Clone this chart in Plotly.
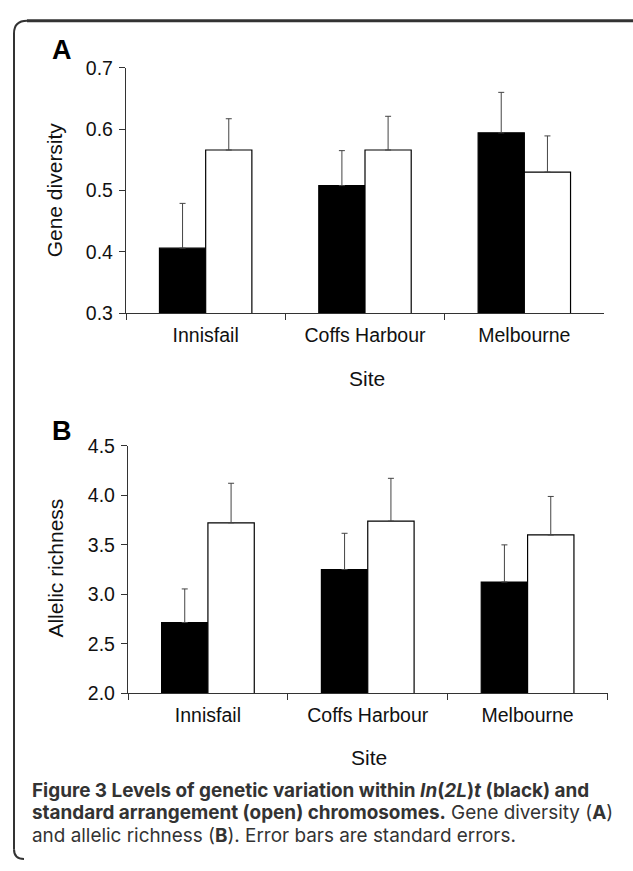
import plotly.graph_objects as go

# ---------------- data ----------------
sites = ["Innisfail", "Coffs Harbour", "Melbourne"]

gene_div_inv = [0.406, 0.508, 0.594]      # In(2L)t (black)
gene_div_inv_se = [0.073, 0.057, 0.066]
gene_div_std = [0.566, 0.566, 0.530]      # standard (open)
gene_div_std_se = [0.051, 0.055, 0.059]

allelic_inv = [2.715, 3.25, 3.124]
allelic_inv_se = [0.339, 0.366, 0.375]
allelic_std = [3.722, 3.739, 3.599]
allelic_std_se = [0.399, 0.432, 0.389]

ticks_a = [0.3, 0.4, 0.5, 0.6, 0.7]
ticks_b = [2.0, 2.5, 3.0, 3.5, 4.0, 4.5]

# ---------------- layout helpers ----------------
W, H = 633, 871


def px(x):
    return x / W


def py(y):
    return 1 - y / H


AXIS_FONT = "Liberation Sans, Arial, sans-serif"
CAP_FONT = "Inter, Open Sans, sans-serif"
AXC = "#333333"

fig = go.Figure()


def add_pair(inv, inv_se, std, std_se, xa, ya):
    fig.add_trace(go.Bar(
        x=sites, y=inv, xaxis=xa, yaxis=ya, name="In(2L)t",
        marker=dict(color="black", line=dict(color="black", width=1.2)),
        error_y=dict(type="data", symmetric=False, array=inv_se,
                     arrayminus=[0] * len(inv_se), color="#444444",
                     thickness=1, width=3),
        showlegend=False))
    fig.add_trace(go.Bar(
        x=sites, y=std, xaxis=xa, yaxis=ya, name="Standard",
        marker=dict(color="white", line=dict(color="black", width=1.2)),
        error_y=dict(type="data", symmetric=False, array=std_se,
                     arrayminus=[0] * len(std_se), color="#444444",
                     thickness=1, width=3),
        showlegend=False))


add_pair(gene_div_inv, gene_div_inv_se, gene_div_std, gene_div_std_se, "x", "y")
add_pair(allelic_inv, allelic_inv_se, allelic_std, allelic_std_se, "x2", "y2")

xcommon = dict(type="category", tickson="boundaries", ticks="outside",
               ticklen=6, tickwidth=1.2, tickcolor=AXC, showline=True,
               linecolor=AXC, linewidth=1.3, showgrid=False, zeroline=False,
               tickfont=dict(family=AXIS_FONT, size=19.5, color="#111"),
               range=[-0.5, 2.5], fixedrange=True, ticklabelstandoff=4)
ycommon = dict(ticks="outside", ticklen=6, tickwidth=1.2, tickcolor=AXC,
               showline=True, linecolor=AXC, linewidth=1.3, showgrid=False,
               zeroline=False, tickfont=dict(family=AXIS_FONT, size=19.5, color="#111"),
               ticklabelstandoff=2)

fig.update_layout(
    width=W, height=H, margin=dict(l=0, r=0, t=0, b=0),
    paper_bgcolor="white", plot_bgcolor="white",
    barmode="group", bargap=0.42, bargroupgap=0,
    xaxis=dict(domain=[px(126), px(604)], anchor="y", **xcommon),
    yaxis=dict(domain=[py(310), py(58.3)], anchor="x", range=[0.3, 0.7],
               tickvals=ticks_a, tickformat=".1f", **ycommon),
    xaxis2=dict(domain=[px(128), px(607.5)], anchor="y2", **xcommon),
    yaxis2=dict(domain=[py(700), py(446)], anchor="x2", range=[2.0, 4.5],
                tickvals=ticks_b, tickformat=".1f", **ycommon),
)

ann = []
tfont = dict(family=AXIS_FONT, size=21, color="#111")
# axis titles
ann.append(dict(text="Gene diversity", x=px(54), y=py(184), textangle=-90, font=tfont))
ann.append(dict(text="Allelic richness", x=px(56), y=py(572), textangle=-90, font=tfont))
ann.append(dict(text="Site", x=px(367), y=py(377), font=tfont))
ann.append(dict(text="Site", x=px(369), y=py(766), font=tfont))
# panel letters
lfont = dict(family=AXIS_FONT, size=27, color="black")
ann.append(dict(text="<b>A</b>", x=px(62), y=py(39.5), font=lfont))
ann.append(dict(text="<b>B</b>", x=px(62), y=py(431), font=lfont))
# caption
cap_lines = [
    "<b>Figure 3 Levels of genetic variation within <i>In</i>(<i>2L</i>)<i>t</i> (black) and</b>",
    "<b>standard arrangement (open) chromosomes.</b> Gene diversity (<b>A</b>)",
    "and allelic richness (<b>B</b>). Error bars are standard errors.",
]
cap_y = [799.5, 822.5, 845.5]
for t, yy in zip(cap_lines, cap_y):
    ann.append(dict(text=t, x=px(30), y=py(yy), xanchor="left",
                    font=dict(family=CAP_FONT, size=18.9, color="#333333")))

for a in ann:
    a.setdefault("xanchor", "center")
    a.update(xref="paper", yref="paper", yanchor="middle", showarrow=False)
fig.update_layout(annotations=ann)

# rounded frame (open at right/bottom beyond the image)
FR = dict(color="#333333", width=2)
r = 13
fx, ft = 14, 10
fig.add_shape(type="path", xref="paper", yref="paper", line=FR, layer="above",
              path=(f"M {px(fx)},{py(860)} L {px(fx)},{py(ft + r)} "
                    f"Q {px(fx)},{py(ft)} {px(fx + r)},{py(ft)}"))
fig.add_shape(type="path", xref="paper", yref="paper", line=FR,
              path=f"M {px(fx)},{py(860)} Q {px(fx)},{py(870)} {px(fx + 10)},{py(870)}")
# top edge
fig.add_shape(type="line", xref="paper", yref="paper", layer="above",
              x0=px(fx + r), x1=px(633), y0=py(ft), y1=py(ft),
              line=dict(color="#333333", width=3))

fig.write_html("out.html", config={"displayModeBar": False})
